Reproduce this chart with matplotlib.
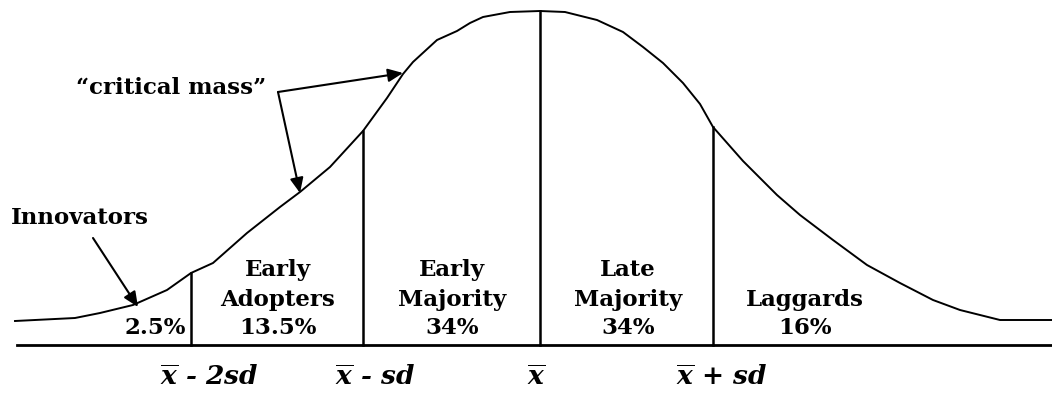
"""
Diffusion of innovations bell curve (adopter categories).
"""

import matplotlib
matplotlib.use("Agg")
import numpy as np
import matplotlib.pyplot as plt

# ---------------------------------
# Data (pixel-like units, y grows downward)
# ---------------------------------
curve_x = [15, 75, 100, 133, 167, 191, 213, 247, 280, 300, 330, 363, 387, 403,
           413, 437, 457, 470, 483, 510, 540, 565, 597, 623, 643, 663, 683,
           700, 713, 743, 777, 800, 833, 867, 900, 933, 960, 1000, 1052]
curve_y = [321, 318, 313, 305, 290, 273, 263, 233, 207, 192, 167, 131, 98, 74,
           62, 40, 31, 23, 17, 12, 11, 12, 20, 32, 47, 63, 83,
           104, 127, 161, 195, 215, 240, 265, 283, 300, 310, 320, 320]

baseline_y = 345
baseline_start = 17

divider_x = [191, 363, 540, 713]

segment_names = [["Early", "Adopters"], ["Early", "Majority"],
                 ["Late", "Majority"], ["Laggards"]]
segment_share = ["13.5%", "34%", "34%", "16%"]
segment_center = [278, 452, 628, 805]

innovator_share = "2.5%"

sd_labels = [r"$\overline{\mathbfit{x}}$ - 2sd", r"$\overline{\mathbfit{x}}$ - sd",
             r"$\overline{\mathbfit{x}}$", r"$\overline{\mathbfit{x}}$ + sd"]
sd_label_left = [160, 335, 527, 676]

# ---------------------------------
# Figure
# ---------------------------------
plt.rcParams["mathtext.fontset"] = "dejavuserif"
fig = plt.figure(figsize=(10.52, 3.94), dpi=100)
ax = fig.add_axes([0, 0, 1, 1])
ax.set_xlim(0, 1052)
ax.set_ylim(394, 0)
ax.axis("off")

txt = dict(family="DejaVu Serif", weight="bold", fontsize=16.5, color="black")

# bell curve + baseline
ax.plot(curve_x, curve_y, color="black", lw=1.4)
ax.plot([baseline_start, 1052], [baseline_y, baseline_y], color="black", lw=2)

# category dividers up to the curve
for dx in divider_x:
    top = np.interp(dx, curve_x, curve_y)
    ax.plot([dx, dx], [baseline_y, top], color="black", lw=1.8)

# category labels
row_y = [270, 300, 328]
for names, share, cx in zip(segment_names, segment_share, segment_center):
    lines = names + [share]
    for line, ly in zip(lines, row_y[-len(lines):]):
        ax.text(cx, ly, line, ha="center", va="center", **txt)
ax.text(186, 328, innovator_share, ha="right", va="center", **txt)

# sd axis labels
for lab, lx in zip(sd_labels, sd_label_left):
    ax.text(lx, 377, lab, ha="left", va="center", style="italic",
            family="DejaVu Serif", weight="bold", fontsize=19)

# annotations
arrow = dict(arrowstyle="-|>,head_length=0.9,head_width=0.4", color="black",
             lw=1.5, shrinkA=0, shrinkB=0)
ax.text(80, 218, "Innovators", ha="center", va="center", **txt)
ax.annotate("", xy=(138, 307), xytext=(93, 238), arrowprops=arrow)

ax.text(171, 88, "\u201ccritical mass\u201d", ha="center", va="center", **txt)
ax.annotate("", xy=(403, 73), xytext=(278, 92), arrowprops=arrow)
ax.annotate("", xy=(300, 193), xytext=(278, 92), arrowprops=arrow)

fig.savefig("out.png", dpi=100, facecolor="white")
